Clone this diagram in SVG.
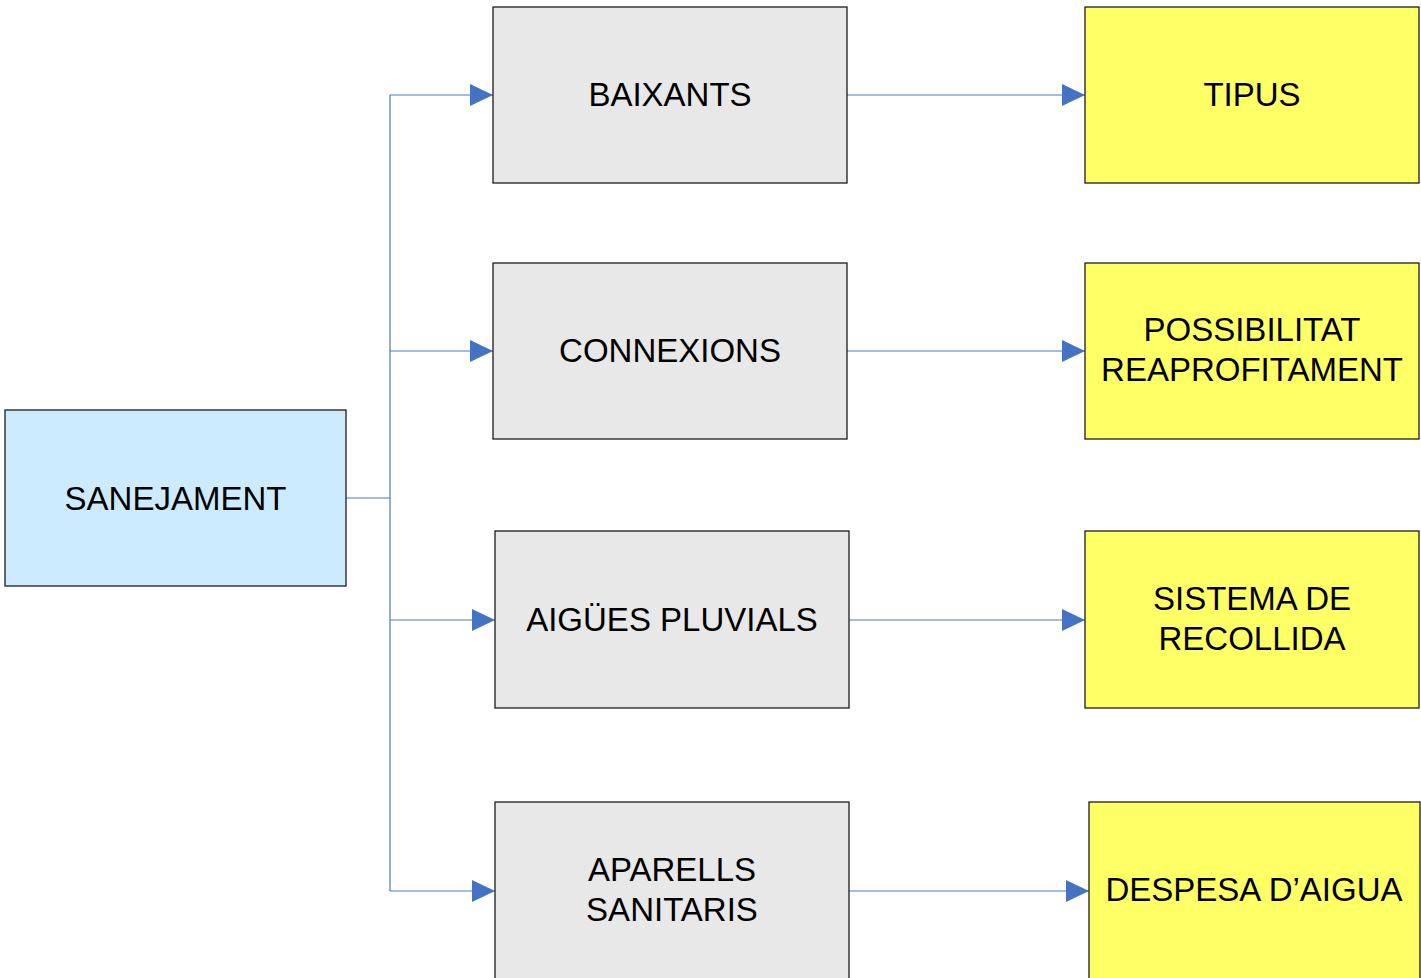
<svg xmlns="http://www.w3.org/2000/svg" width="1421" height="978" viewBox="0 0 1421 978">
<style>
.box{stroke:#1c1c1c;stroke-width:1.3}
.root{fill:#CCEBFF}
.mid{fill:#E8E8E8}
.leaf{fill:#FFFF66}
.t{font-family:"Liberation Sans",Arial,sans-serif;font-size:33px;fill:#000;text-anchor:middle}
.c{fill:none;stroke:#4A78C8;stroke-width:1.2}
</style>
<defs>
<marker id="ah" markerWidth="23" markerHeight="22" refX="23" refY="11" orient="auto" markerUnits="userSpaceOnUse">
<path d="M0,0 L23,11 L0,22 Z" fill="#4472C4"/>
</marker>
</defs>
<rect width="1421" height="978" fill="#fff"/>
<g id="connectors">
<path class="c" d="M346,498 H390"/>
<path class="c" d="M390,95 V891"/>
<path class="c" d="M390,95 H493" marker-end="url(#ah)"/>
<path class="c" d="M390,351 H493" marker-end="url(#ah)"/>
<path class="c" d="M390,620 H495" marker-end="url(#ah)"/>
<path class="c" d="M390,891 H495" marker-end="url(#ah)"/>
<path class="c" d="M847,95 H1085" marker-end="url(#ah)"/>
<path class="c" d="M847,351 H1085" marker-end="url(#ah)"/>
<path class="c" d="M849,620 H1085" marker-end="url(#ah)"/>
<path class="c" d="M849,891 H1089" marker-end="url(#ah)"/>
</g>
<g id="sanejament">
<rect class="box root" x="5" y="410" width="341" height="176"/>
<text class="t" x="175.5" y="510">SANEJAMENT</text>
</g>
<g id="baixants">
<rect class="box mid" x="493" y="7" width="354" height="176"/>
<text class="t" x="670" y="106">BAIXANTS</text>
</g>
<g id="connexions">
<rect class="box mid" x="493" y="263" width="354" height="176"/>
<text class="t" x="670" y="362">CONNEXIONS</text>
</g>
<g id="aigues">
<rect class="box mid" x="495" y="531" width="354" height="177"/>
<text class="t" x="672" y="631">AIGÜES PLUVIALS</text>
</g>
<g id="aparells">
<rect class="box mid" x="495" y="802" width="354" height="190"/>
<text class="t" x="672" y="881">APARELLS</text>
<text class="t" x="672" y="921">SANITARIS</text>
</g>
<g id="tipus">
<rect class="box leaf" x="1085" y="7" width="334" height="176"/>
<text class="t" x="1252" y="106">TIPUS</text>
</g>
<g id="possibilitat">
<rect class="box leaf" x="1085" y="263" width="334" height="176"/>
<text class="t" x="1252" y="341">POSSIBILITAT</text>
<text class="t" x="1252" y="381">REAPROFITAMENT</text>
</g>
<g id="sistema">
<rect class="box leaf" x="1085" y="531" width="334" height="177"/>
<text class="t" x="1252" y="610">SISTEMA DE</text>
<text class="t" x="1252" y="650">RECOLLIDA</text>
</g>
<g id="despesa">
<rect class="box leaf" x="1089" y="802" width="331" height="190"/>
<text class="t" x="1254" y="901">DESPESA D’AIGUA</text>
</g>
</svg>
